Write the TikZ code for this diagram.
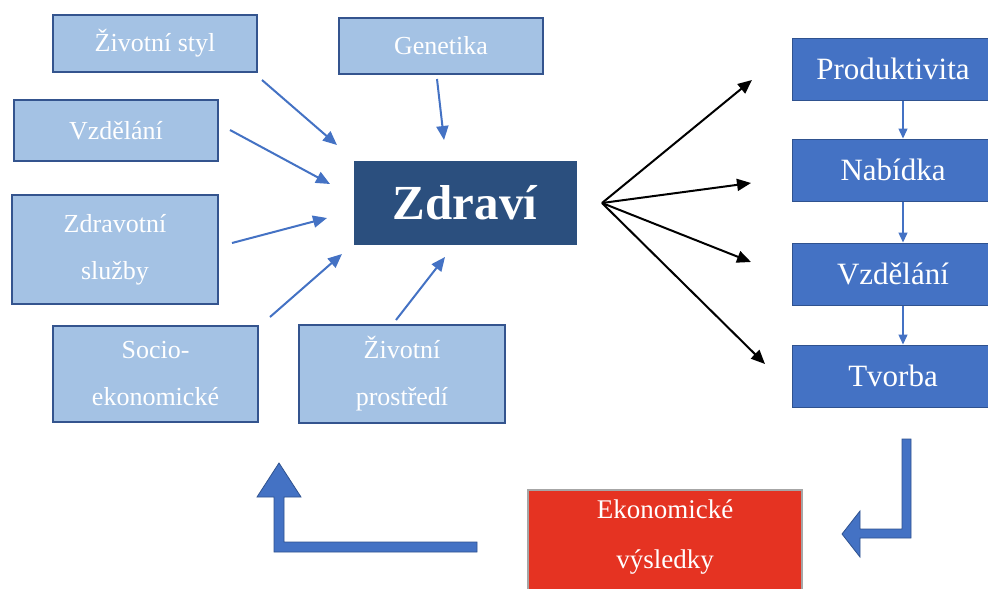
\documentclass[tikz,border=0pt]{standalone}
\usepackage{fontspec}
\setmainfont{Liberation Serif}
\usetikzlibrary{arrows.meta}
\definecolor{lfill}{HTML}{A4C2E4}
\definecolor{lborder}{HTML}{34548E}
\definecolor{dfill}{HTML}{2B4F7E}
\definecolor{rfill}{HTML}{4472C4}
\definecolor{rborder}{HTML}{2F528F}
\definecolor{redfill}{HTML}{E53322}
\definecolor{ablue}{HTML}{4472C4}
\tikzset{
 lbox/.style={draw=lborder, fill=lfill, line width=1.3pt, text=white, font=\fontsize{26}{47}\selectfont, align=center, inner sep=0pt},
 rbox/.style={draw=rborder, fill=rfill, line width=1pt, text=white, font=\fontsize{31}{36}\selectfont, inner sep=0pt, minimum width=202pt, minimum height=62pt},
 barrow/.style={draw=ablue, line width=2pt, -{Triangle[length=14pt,width=12pt]}},
 varrow/.style={draw=ablue, line width=1.4pt, -{Triangle[length=10pt,width=9pt]}},
 karrow/.style={draw=black, line width=2pt, -{Triangle[length=14pt,width=12pt]}},
 blockarrow/.style={fill=ablue, draw=rborder, line width=0.8pt},
}
\begin{document}
\begin{tikzpicture}[x=1pt,y=-1pt]
\useasboundingbox (0,0) rectangle (988,589);
\fill[white] (0,0) rectangle (988,589);
% left boxes
\node[lbox, minimum width=204pt, minimum height=57pt] (styl) at (155,43.5) {Životní styl};
\node[lbox, minimum width=204pt, minimum height=56pt] (gen) at (441,46) {Genetika};
\node[lbox, minimum width=204pt, minimum height=61pt] (vzd) at (116,130.5) {Vzdělání};
\node[lbox, minimum width=206pt, minimum height=109pt] (zdrav) at (115,249.5) {Zdravotní\\služby};
\node[lbox, minimum width=205pt, minimum height=96pt] (socio) at (155.5,374) {Socio-\\ekonomické};
\node[lbox, minimum width=206pt, minimum height=98pt] (prostr) at (402,374) {Životní\\prostředí};
% central
\node[draw=dfill, fill=dfill, text=white, font=\fontsize{49}{52}\selectfont\bfseries, minimum width=222pt, minimum height=83pt, inner sep=0pt] (zdravi) at (465,202.5) {Zdraví};
% right boxes
\node[rbox] (prod) at (893,69) {Produktivita};
\node[rbox] (nab) at (893,170) {Nabídka};
\node[rbox] (vzd2) at (893,274) {Vzdělání};
\node[rbox] (tvor) at (893,376) {Tvorba};
% red box
\node[draw=gray!70, fill=redfill, line width=1.2pt, minimum width=274pt, minimum height=110pt, inner sep=0pt] (eko) at (665,545) {};
\node[text=white, font=\fontsize{27}{50}\selectfont, align=center, inner sep=0pt] (ekotext) at (665,537) {Ekonomické\\výsledky};
% blue arrow coordinates
\coordinate (s1) at (262,80);  \coordinate (e1) at (337,145);
\coordinate (s2) at (230,130); \coordinate (e2) at (330,184);
\coordinate (s3) at (232,243); \coordinate (e3) at (327,218);
\coordinate (s4) at (270,317); \coordinate (e4) at (342,254);
\coordinate (s5) at (396,320); \coordinate (e5) at (445,257);
\coordinate (s6) at (437,79);  \coordinate (e6) at (444,140);
\draw[barrow] (s1) -- (e1);
\draw[barrow] (s2) -- (e2);
\draw[barrow] (s3) -- (e3);
\draw[barrow] (s4) -- (e4);
\draw[barrow] (s5) -- (e5);
\draw[barrow] (s6) -- (e6);
% black fan
\coordinate (fan) at (602,203);
\coordinate (k1) at (752,80);
\coordinate (k2) at (751,183);
\coordinate (k3) at (751,262);
\coordinate (k4) at (765,364);
\draw[karrow] (fan) -- (k1);
\draw[karrow] (fan) -- (k2);
\draw[karrow] (fan) -- (k3);
\draw[karrow] (fan) -- (k4);
% vertical arrows on right
\draw[varrow] ([xshift=10pt]prod.south) -- ([xshift=10pt]nab.north);
\draw[varrow] ([xshift=10pt]nab.south) -- ([xshift=10pt]vzd2.north);
\draw[varrow] ([xshift=10pt]vzd2.south) -- ([xshift=10pt]tvor.north);
% block arrows
\draw[blockarrow] (279,463) -- (301,497) -- (284,497) -- (284,542) -- (477,542) -- (477,552) -- (274,552) -- (274,497) -- (257,497) -- cycle;
\draw[blockarrow] (902,439) -- (911,439) -- (911,538) -- (860,538) -- (860,557) -- (842,534) -- (860,511) -- (860,529) -- (902,529) -- cycle;
\end{tikzpicture}
\end{document}
